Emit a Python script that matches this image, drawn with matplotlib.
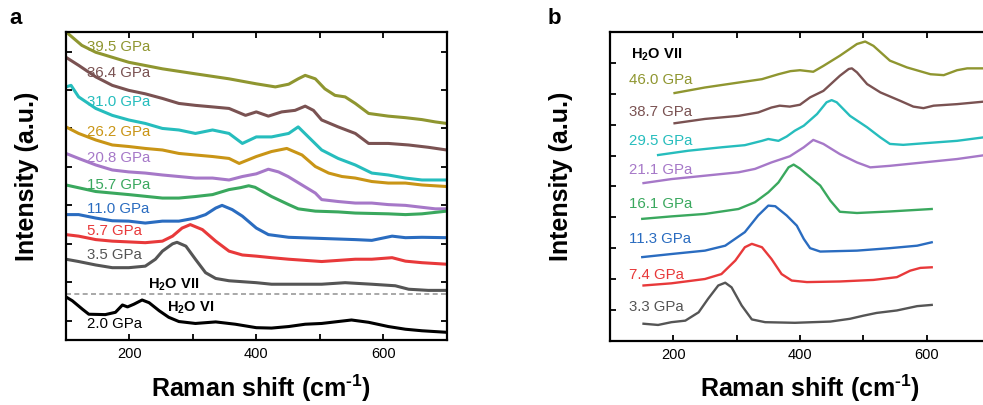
import numpy as np
import matplotlib
matplotlib.use('Agg')
import matplotlib.pyplot as plt
from matplotlib.ticker import FixedLocator, NullFormatter

plt.rcParams['font.family'] = ['Liberation Sans', 'DejaVu Sans']
plt.rcParams['mathtext.fontset'] = 'custom'
plt.rcParams['mathtext.rm'] = 'Liberation Sans'
plt.rcParams['mathtext.bf'] = 'Liberation Sans:bold'

# ---- panel a : Raman spectra (offset), x in cm-1, y in a.u. ----
a_395_x = [103, 125, 147, 199, 252, 304, 357, 400, 430, 451, 466, 477, 493, 508, 524, 540, 556, 577, 608, 635, 661, 682, 700]
a_395_y = [8.47, 8.16, 7.98, 7.72, 7.55, 7.42, 7.29, 7.16, 7.08, 7.15, 7.29, 7.38, 7.29, 7.03, 6.86, 6.82, 6.65, 6.39, 6.32, 6.28, 6.23, 6.17, 6.13]
a_364_x = [100, 120, 147, 173, 199, 225, 252, 278, 304, 331, 357, 383, 400, 419, 440, 461, 477, 490, 503, 529, 556, 577, 608, 640, 671, 700]
a_364_y = [7.85, 7.64, 7.34, 7.12, 6.99, 6.90, 6.78, 6.65, 6.60, 6.56, 6.52, 6.34, 6.43, 6.32, 6.43, 6.47, 6.58, 6.47, 6.22, 6.04, 5.87, 5.61, 5.61, 5.57, 5.51, 5.44]
a_310_x = [100, 108, 120, 147, 173, 199, 225, 252, 278, 304, 331, 357, 378, 400, 424, 451, 466, 482, 503, 529, 556, 582, 608, 635, 661, 700]
a_310_y = [7.08, 7.12, 6.82, 6.52, 6.34, 6.22, 6.13, 6.00, 5.96, 5.87, 5.96, 5.87, 5.61, 5.78, 5.78, 5.87, 6.04, 5.78, 5.44, 5.22, 5.05, 4.84, 4.79, 4.71, 4.66, 4.66]
a_262_x = [100, 120, 147, 173, 199, 225, 252, 278, 304, 331, 357, 373, 400, 424, 448, 472, 493, 514, 535, 556, 582, 608, 635, 661, 700]
a_262_y = [6.04, 5.87, 5.70, 5.57, 5.53, 5.48, 5.44, 5.35, 5.31, 5.27, 5.22, 5.09, 5.27, 5.40, 5.48, 5.31, 5.01, 4.84, 4.75, 4.71, 4.62, 4.58, 4.58, 4.53, 4.49]
a_208_x = [100, 120, 147, 173, 199, 225, 252, 278, 304, 331, 357, 378, 400, 419, 435, 450, 472, 493, 503, 529, 556, 582, 608, 635, 661, 682, 700]
a_208_y = [5.35, 5.22, 5.05, 4.92, 4.87, 4.84, 4.79, 4.75, 4.71, 4.71, 4.66, 4.75, 4.82, 4.94, 4.87, 4.75, 4.53, 4.32, 4.15, 4.10, 4.06, 4.06, 4.02, 4.00, 3.95, 3.91, 3.91]
a_157_x = [100, 147, 199, 252, 278, 304, 331, 357, 375, 388, 398, 424, 451, 466, 493, 529, 556, 608, 635, 661, 700]
a_157_y = [4.53, 4.36, 4.28, 4.19, 4.19, 4.23, 4.28, 4.41, 4.46, 4.51, 4.47, 4.23, 4.02, 3.91, 3.85, 3.83, 3.80, 3.78, 3.76, 3.78, 3.85]
a_110_x = [100, 120, 147, 173, 199, 225, 252, 278, 304, 320, 336, 346, 362, 378, 400, 419, 451, 503, 556, 582, 614, 635, 661, 700]
a_110_y = [3.76, 3.76, 3.67, 3.60, 3.59, 3.54, 3.59, 3.59, 3.67, 3.76, 3.93, 4.00, 3.89, 3.72, 3.41, 3.24, 3.17, 3.14, 3.11, 3.09, 3.20, 3.16, 3.17, 3.16]
a_57_x = [100, 120, 147, 173, 199, 225, 252, 268, 283, 296, 315, 336, 357, 378, 400, 424, 451, 503, 556, 582, 614, 635, 661, 700]
a_57_y = [3.24, 3.20, 3.11, 3.07, 3.05, 3.03, 3.07, 3.20, 3.41, 3.50, 3.37, 3.07, 2.81, 2.71, 2.68, 2.64, 2.60, 2.54, 2.60, 2.60, 2.64, 2.55, 2.51, 2.47]
a_35_x = [100, 120, 147, 173, 199, 225, 241, 252, 268, 275, 289, 304, 320, 336, 357, 400, 424, 451, 503, 540, 582, 619, 640, 671, 700]
a_35_y = [2.60, 2.54, 2.45, 2.38, 2.38, 2.42, 2.60, 2.81, 3.00, 3.04, 2.94, 2.60, 2.25, 2.10, 2.04, 1.99, 1.95, 1.95, 1.95, 1.99, 1.95, 1.91, 1.82, 1.79, 1.79]
a_20_x = [100, 110, 126, 136, 162, 178, 189, 197, 207, 220, 231, 247, 262, 278, 304, 336, 367, 400, 424, 451, 477, 503, 529, 550, 577, 608, 635, 661, 700]
a_20_y = [1.62, 1.52, 1.30, 1.17, 1.16, 1.22, 1.41, 1.36, 1.43, 1.54, 1.47, 1.26, 1.09, 0.98, 0.93, 0.97, 0.91, 0.82, 0.81, 0.85, 0.91, 0.93, 0.98, 1.02, 0.96, 0.85, 0.78, 0.74, 0.70]
a_labels = ['39.5 GPa', '36.4 GPa', '31.0 GPa', '26.2 GPa', '20.8 GPa', '15.7 GPa', '11.0 GPa', '5.7 GPa', '3.5 GPa', '2.0 GPa']
a_label_y = [8.13, 7.44, 6.69, 5.91, 5.23, 4.54, 3.91, 3.33, 2.71, 0.91]
a_phase_line = 1.69

# ---- panel b ----
b_460_x = [202, 250, 303, 340, 366, 385, 400, 421, 437, 463, 490, 503, 516, 542, 569, 606, 627, 648, 664, 700]
b_460_y = [8.03, 8.21, 8.37, 8.48, 8.64, 8.74, 8.77, 8.72, 8.91, 9.24, 9.62, 9.70, 9.56, 9.08, 8.86, 8.64, 8.61, 8.77, 8.83, 8.83]
b_387_x = [202, 250, 303, 334, 355, 368, 384, 400, 416, 437, 463, 477, 482, 490, 506, 527, 558, 579, 595, 611, 648, 700]
b_387_y = [7.05, 7.19, 7.29, 7.40, 7.56, 7.62, 7.59, 7.65, 7.89, 8.10, 8.59, 8.81, 8.83, 8.70, 8.32, 8.05, 7.78, 7.59, 7.54, 7.62, 7.67, 7.77]
b_295_x = [176, 224, 276, 313, 340, 350, 366, 379, 392, 406, 427, 442, 450, 458, 479, 506, 527, 542, 563, 595, 648, 700]
b_295_y = [6.02, 6.16, 6.27, 6.34, 6.48, 6.54, 6.48, 6.62, 6.81, 6.97, 7.35, 7.73, 7.80, 7.73, 7.29, 6.92, 6.59, 6.38, 6.35, 6.40, 6.48, 6.62]
b_211_x = [153, 197, 250, 303, 329, 355, 384, 406, 421, 437, 463, 490, 511, 542, 595, 648, 700]
b_211_y = [5.11, 5.24, 5.35, 5.46, 5.57, 5.78, 5.98, 6.27, 6.51, 6.38, 6.05, 5.78, 5.62, 5.67, 5.78, 5.89, 6.04]
b_161_x = [151, 197, 250, 303, 329, 350, 366, 382, 390, 400, 415, 432, 448, 463, 490, 542, 608]
b_161_y = [3.95, 4.03, 4.11, 4.27, 4.49, 4.81, 5.13, 5.62, 5.71, 5.58, 5.32, 5.03, 4.54, 4.18, 4.14, 4.19, 4.27]
b_113_x = [151, 197, 250, 282, 313, 334, 350, 361, 379, 395, 406, 416, 432, 490, 542, 585, 608]
b_113_y = [2.71, 2.81, 2.92, 3.08, 3.52, 4.06, 4.38, 4.36, 4.06, 3.73, 3.30, 3.00, 2.89, 2.92, 3.00, 3.08, 3.19]
b_74_x = [153, 197, 250, 276, 298, 313, 324, 340, 355, 371, 387, 411, 463, 516, 553, 574, 590, 608]
b_74_y = [1.79, 1.86, 2.00, 2.16, 2.60, 3.03, 3.14, 3.03, 2.65, 2.16, 1.95, 1.90, 1.92, 1.97, 2.06, 2.27, 2.36, 2.38]
b_33_x = [153, 176, 197, 219, 240, 255, 271, 282, 292, 308, 324, 345, 392, 448, 479, 500, 521, 553, 585, 608]
b_33_y = [0.55, 0.51, 0.60, 0.65, 0.92, 1.36, 1.79, 1.88, 1.73, 1.14, 0.69, 0.60, 0.58, 0.62, 0.71, 0.81, 0.90, 0.98, 1.12, 1.16]
b_labels = ['46.0 GPa', '38.7 GPa', '29.5 GPa', '21.1 GPa', '16.1 GPa', '11.3 GPa', '7.4 GPa', '3.3 GPa']
b_label_y = [8.45, 7.43, 6.48, 5.54, 4.43, 3.30, 2.13, 1.08]

a_colors = ['#8f9630', '#7a5252', '#26bdbd', '#c99516', '#a678c8', '#3aa85e', '#2a6cc0', '#e8393a', '#555555', '#000000']
b_colors = ['#8f9630', '#7a5252', '#26bdbd', '#a678c8', '#3aa85e', '#2a6cc0', '#e8393a', '#555555']


def style_axes(ax, ylim, yticks):
    ax.set_xlim(100, 700)
    ax.set_ylim(*ylim)
    ax.xaxis.set_major_locator(FixedLocator([200, 400, 600]))
    ax.xaxis.set_minor_locator(FixedLocator([300, 500]))
    ax.yaxis.set_major_locator(FixedLocator(yticks))
    ax.yaxis.set_major_formatter(NullFormatter())
    ax.tick_params(which='both', direction='in', top=True, right=True, length=4.5, width=1.3,
                   labelsize=10.5, pad=5)
    for s in ax.spines.values():
        s.set_linewidth(1.6)


fig = plt.figure(figsize=(9.83, 4.05), dpi=100)

# panel a
axa = fig.add_axes([0.0671, 0.1605, 0.3873, 0.7598])
a_series = [(a_395_x, a_395_y), (a_364_x, a_364_y), (a_310_x, a_310_y), (a_262_x, a_262_y),
            (a_208_x, a_208_y), (a_157_x, a_157_y), (a_110_x, a_110_y), (a_57_x, a_57_y),
            (a_35_x, a_35_y), (a_20_x, a_20_y)]
for (x, y), c, lab, ly in zip(a_series, a_colors, a_labels, a_label_y):
    axa.plot(x, y, color=c, lw=2.2)
    axa.text(133, ly, lab, color=c, fontsize=10.8, va='center', ha='left')
axa.axhline(a_phase_line, color='#999999', lw=1.2, ls=(0, (3, 2)))
axa.text(229, 1.95, r'H$_\mathbf{2}$O VII', fontsize=10.5, fontweight='bold', va='center')
axa.text(259, 1.35, r'H$_\mathbf{2}$O VI', fontsize=10.5, fontweight='bold', va='center')
style_axes(axa, (0.5, 8.5), range(1, 9))

# panel b (right edge runs past the figure, as in the original crop)
axb = fig.add_axes([0.6205, 0.1588, 0.3866, 0.7615])
b_series = [(b_460_x, b_460_y), (b_387_x, b_387_y), (b_295_x, b_295_y), (b_211_x, b_211_y),
            (b_161_x, b_161_y), (b_113_x, b_113_y), (b_74_x, b_74_y), (b_33_x, b_33_y)]
for (x, y), c, lab, ly in zip(b_series, b_colors, b_labels, b_label_y):
    axb.plot(x, y, color=c, lw=1.7)
    axb.text(130, ly, lab, color=c, fontsize=10.8, va='center', ha='left')
axb.text(134, 9.29, r'H$_\mathbf{2}$O VII', fontsize=10.5, fontweight='bold', va='center')
style_axes(axb, (0, 10), range(1, 10))

xlab = 'Raman shift (cm$^{\\mathbf{\u20101}}$)'
fig.text(0.266, 0.042, xlab, fontsize=18, fontweight='bold', ha='center', va='center')
fig.text(0.824, 0.042, xlab, fontsize=18, fontweight='bold', ha='center', va='center')
fig.text(0.0275, 0.564, 'Intensity (a.u.)', fontsize=18, fontweight='bold', rotation=90,
         ha='center', va='center')
fig.text(0.5707, 0.564, 'Intensity (a.u.)', fontsize=18, fontweight='bold', rotation=90,
         ha='center', va='center')
fig.text(0.016, 0.955, 'a', fontsize=16, fontweight='bold', ha='center', va='center')
fig.text(0.5636, 0.955, 'b', fontsize=16, fontweight='bold', ha='center', va='center')

fig.savefig('out.png', dpi=100)
